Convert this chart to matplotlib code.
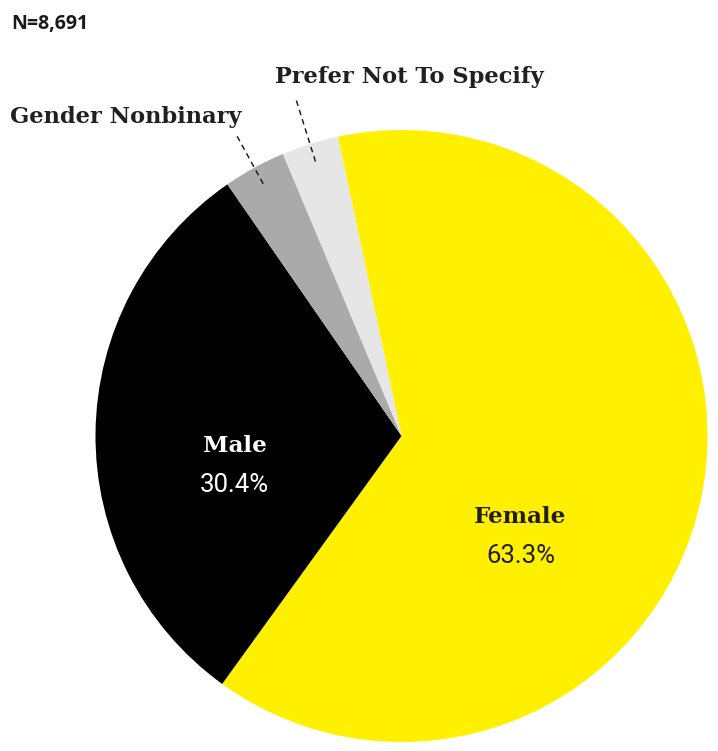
import matplotlib
matplotlib.use("Agg")
import matplotlib.pyplot as plt
import numpy as np

# Gender breakdown of respondents
categories = ["Female", "Male", "Gender Nonbinary", "Prefer Not To Specify"]
shares = [63.3, 30.4, 3.3, 3.0]
colors = ["#FFF000", "#000000", "#AAAAAA", "#E6E6E6"]
sample_label = "N=8,691"

W, H = 718, 751
fig = plt.figure(figsize=(W / 100, H / 100), dpi=100)
ax = fig.add_axes([0, 0, 1, 1])

slab = "DejaVu Serif"

cx, cy, R = 401.5, H - 436, 306
wedges, _ = ax.pie(shares, colors=colors, startangle=102, counterclock=False,
                   center=(cx, cy), radius=R,
                   wedgeprops=dict(linewidth=0, antialiased=True))
ax.set_xlim(0, W)
ax.set_ylim(0, H)
ax.set_aspect("equal")
ax.axis("off")

# In-slice labels for the two large groups
def inside(name, value, x, y_name, y_val, color):
    ax.text(x, y_name, name, ha="center", va="baseline", color=color,
            fontfamily=slab, fontweight="bold", fontsize=16.6)
    ax.text(x, y_val, f"{value:.1f}%", ha="center", va="baseline", color=color,
            fontfamily="Roboto", fontsize=18.5)

inside(categories[0], shares[0], 520.5, H - 523, H - 563, "#231F20")
inside(categories[1], shares[1], 234.5, H - 452, H - 492, "white")

# Leader lines for the two small groups, drawn radially at the wedge mid-angle
for w, r1f in zip(wedges[2:], (1.12, 1.16)):
    mid = np.deg2rad((w.theta1 + w.theta2) / 2)
    r0, r1 = 0.94 * R, r1f * R
    ax.plot([cx + r0 * np.cos(mid), cx + r1 * np.cos(mid)],
            [cy + r0 * np.sin(mid), cy + r1 * np.sin(mid)],
            color="#111111", lw=1.0, linestyle=(0, (4, 3)))

ax.text(10, H - 123, categories[2], ha="left", va="baseline", color="#231F20",
        fontfamily=slab, fontweight="bold", fontsize=16.2)
ax.text(409, H - 83, categories[3], ha="center", va="baseline", color="#231F20",
        fontfamily=slab, fontweight="bold", fontsize=16.2)

ax.text(11, H - 29, sample_label, ha="left", va="baseline", color="#1A1A1A",
        fontfamily="Open Sans", fontweight="bold", fontsize=14)

fig.savefig("out.png", dpi=100, facecolor="white")
